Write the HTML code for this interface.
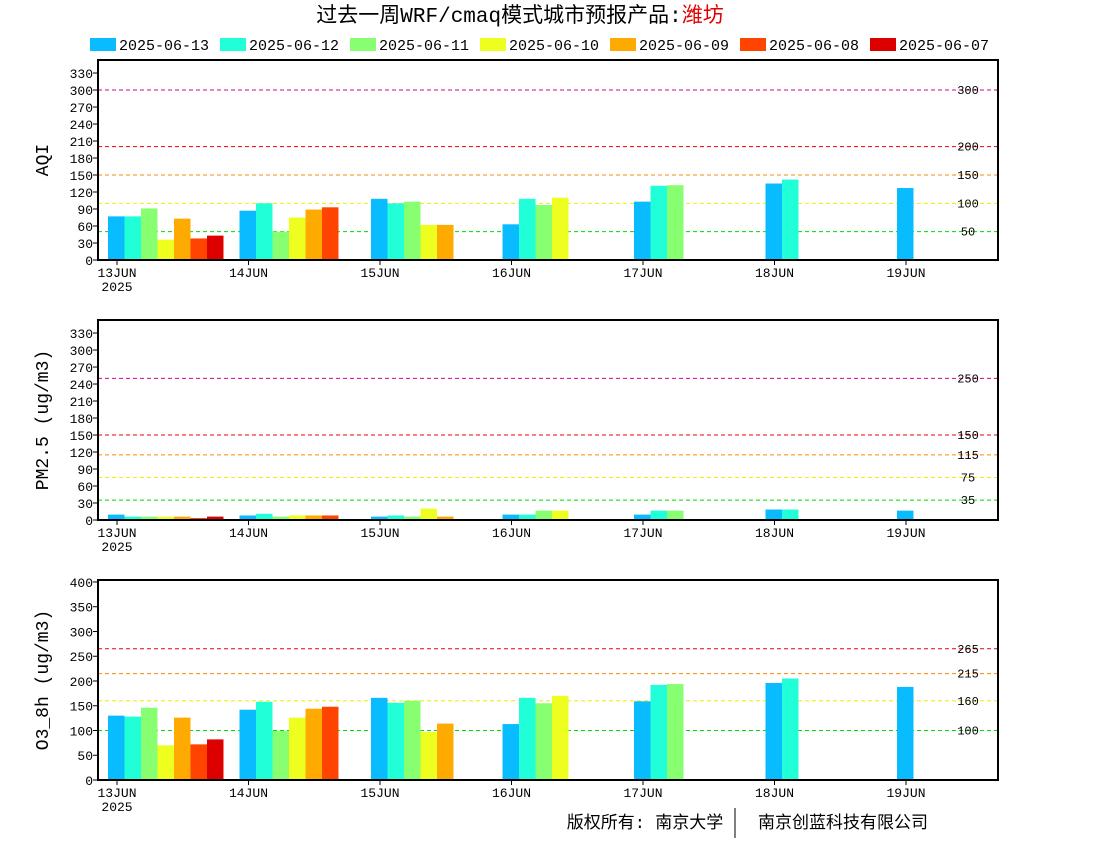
<!DOCTYPE html>
<html><head><meta charset="utf-8"><style>
body{margin:0;background:#fff;width:1100px;height:850px;overflow:hidden}
svg text{font-family:"Liberation Mono","Noto Sans CJK SC",monospace}
</style></head><body>
<svg id="c" width="1100" height="850" xmlns="http://www.w3.org/2000/svg">
<text x="520" y="22" text-anchor="middle" font-size="21" font-family="Liberation Serif,Noto Serif CJK SC,serif">过去一周WRF/cmaq模式城市预报产品:<tspan fill="#e00000">潍坊</tspan></text>
<g id="legend"></g>
<g id="panels"></g>
<text x="645" y="828" text-anchor="middle" font-size="17" font-family="Noto Sans CJK SC,sans-serif">版权所有: 南京大学</text>
<line x1="735" y1="808" x2="735" y2="838" stroke="#000"/>
<text x="843" y="828" text-anchor="middle" font-size="17" font-family="Noto Sans CJK SC,sans-serif">南京创蓝科技有限公司</text>
</svg>
<script>
const runs=["2025-06-13","2025-06-12","2025-06-11","2025-06-10","2025-06-09","2025-06-08","2025-06-07"];
const runColors=["#08bcff","#20ffd8","#88ff70","#eeff20","#ffaa00","#ff4400","#dd0000"];
const days=["13JUN","14JUN","15JUN","16JUN","17JUN","18JUN","19JUN"];
// values[day][run]; null = missing
const aqiValues=[[77,77,91,36,73,38,43],[87,100,50,75,89,93],[108,100,103,62,62],[63,108,97,110],[103,131,132],[135,142],[127]];
const pmValues=[[9.5,6,6,6,6,3.5,6],[8,11,6,8,8,8],[6,8,6,20,6],[9.5,9.5,16.5,16.5],[9.5,16.5,16.5],[18.5,18.5],[16.5]];
const o3Values=[[130,128,146,70,126,72,82],[142,158,99,126,144,148],[166,156,160,97,114],[113,166,155,170],[159,192,194],[196,205],[188]];
const aqiTicks=[0,30,60,90,120,150,180,210,240,270,300,330];
const pmTicks=[0,30,60,90,120,150,180,210,240,270,300,330];
const o3Ticks=[0,50,100,150,200,250,300,350,400];
const aqiLines=[[50,"#00dd00"],[100,"#eeee00"],[150,"#ff8800"],[200,"#ee0000"],[300,"#dd0088"]];
const pmLines=[[35,"#00dd00"],[75,"#eeee00"],[115,"#ff8800"],[150,"#ee0000"],[250,"#dd0088"]];
const o3Lines=[[100,"#00dd00"],[160,"#eeee00"],[215,"#ff8800"],[265,"#ee0000"]];
const NS="http://www.w3.org/2000/svg";
function mk(p,t,a){const e=document.createElementNS(NS,t);for(const k in a)e.setAttribute(k,a[k]);p.appendChild(e);return e;}
const lg=document.getElementById('legend');
runs.forEach((r,i)=>{
  const x=90+i*130;
  const s=mk(lg,'rect',{x:x,y:38,width:26,height:13,fill:runColors[i]});
  
  
  const t=mk(lg,'text',{x:x+29,y:50,'font-size':15});
  
  
  t.textContent=r;
});
const X0=98,X1=998,DAY0=117,DAYW=131.5,BW=16.5;
function dayX(d){return DAY0+d*DAYW;}
function panel(name,top,ymax,ticks,lines,vals,title){
  const bot=top+200;
  const g=mk(document.getElementById('panels'),'g',{});
  
  
  const y=v=>bot-v/ymax*200;
  lines.forEach(([v,c])=>{
    const l=mk(g,'line',{x1:X0,x2:X1,y1:y(v),y2:y(v),stroke:c,'stroke-dasharray':'4,3','stroke-width':1});
    
    
    const t=mk(g,'text',{x:968,y:y(v)+4,'font-size':12,'text-anchor':'middle'});
    
    
    t.textContent=v;
  });
  vals.forEach((arr,d)=>{
    arr.forEach((v,i)=>{
      if(v==null)return;
      const b=mk(g,'rect',{x:dayX(d)-9+i*BW,y:y(v),width:BW,height:bot-y(v),fill:runColors[i]});
      
      
    });
  });
  const f=mk(g,'rect',{x:X0,y:top,width:X1-X0,height:200,fill:'none',stroke:'#000','stroke-width':2});
  
  
  ticks.forEach(v=>{
    mk(g,'line',{x1:X0-5,x2:X0,y1:y(v),y2:y(v),stroke:'#000'});
    const t=mk(g,'text',{x:93,y:y(v)+5,'font-size':13,'text-anchor':'end'});
    
    
    t.textContent=v;
  });
  days.forEach((dl,d)=>{
    mk(g,'line',{x1:dayX(d),x2:dayX(d),y1:bot,y2:bot+5,stroke:'#000'});
    const t=mk(g,'text',{x:dayX(d),y:bot+17,'font-size':13,'text-anchor':'middle'});
    
    
    t.textContent=dl;
  });
  const yr=mk(g,'text',{x:DAY0,y:bot+31,'font-size':13,'text-anchor':'middle'});
  
  
  yr.textContent='2025';
  const at=mk(g,'text',{x:0,y:0,'font-size':18,'text-anchor':'middle',transform:'translate(48,'+(top+100)+') rotate(-90)','font-family':'Liberation Serif,serif'});
  
  
  at.textContent=title;
}
panel('aqi',60,353,aqiTicks,aqiLines,aqiValues,'AQI');
panel('pm25',320,353,pmTicks,pmLines,pmValues,'PM2.5 (ug/m3)');
panel('o3',580,404,o3Ticks,o3Lines,o3Values,'O3_8h (ug/m3)');
</script>
</body></html>
